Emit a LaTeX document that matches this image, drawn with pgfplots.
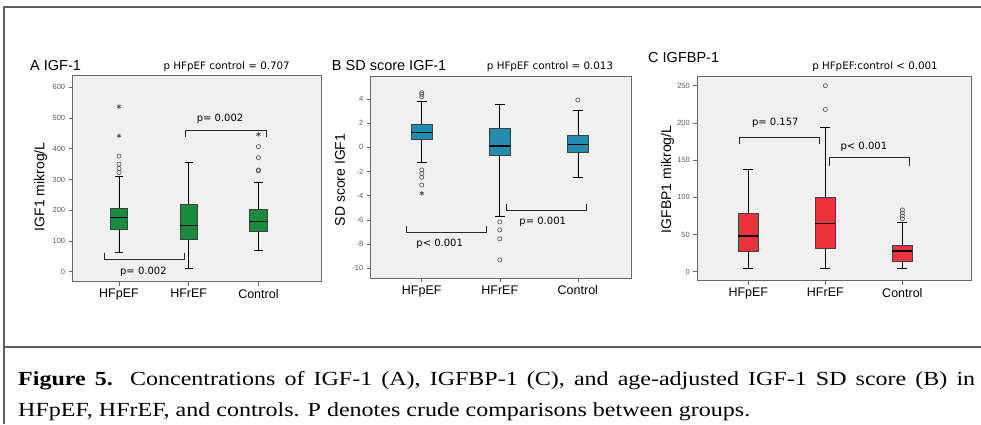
\documentclass[border=0pt]{standalone}
\usepackage{pgfplots}
\pgfplotsset{compat=1.18}
\usepgfplotslibrary{statistics}
\usepackage{fontspec}
\setmainfont{Liberation Sans}
\newfontfamily\capfont[FakeStretch=1.2]{Liberation Serif}
\newfontfamily\pfont{DejaVu Sans}

\definecolor{bgreen}{RGB}{26,138,62}
\definecolor{bblue}{RGB}{35,140,175}
\definecolor{bred}{RGB}{236,50,60}
\definecolor{plotbg}{RGB}{240,240,240}
\definecolor{framegray}{RGB}{95,95,95}

\tikzset{plab/.style={font=\pfont\fontsize{10}{12}\selectfont}}

\pgfplotsset{
 mybox/.style={
  scale only axis,
  anchor=south west,
  axis background/.style={fill=plotbg},
  axis line style={draw=black!60, line width=0.8pt},
  tick align=outside, xtick pos=bottom, ytick pos=left,
  major tick length=4pt, tick style={black!60, line width=0.6pt},
  xtick={1,2,3}, xticklabels={HFpEF,HFrEF,Control},
  x tick label style={font=\fontsize{12.5}{14}\selectfont},
  y tick label style={font=\fontsize{7.5}{9}\selectfont, text=black!65},
  /pgf/number format/assume math mode=true,
  boxplot/draw direction=y,
  boxplot/box extend=0.26,
  boxplot/whisker extend=0.13,
  clip=false,
 },
 bx/.style={fill=#1, draw=black!75, line width=0.6pt, solid,
  boxplot/every median/.style={draw=black, line width=1.6pt},
  boxplot/every whisker/.style={draw=black, line width=0.7pt}},
 outc/.style={only marks, mark=o, mark size=2.1pt, draw=black!70, mark options={line width=0.6pt, solid}},
 outs/.style={only marks, mark=asterisk, mark size=2.4pt, draw=black!75, mark options={line width=0.6pt, solid}},
 brk/.style={black!85, line width=0.8pt, no marks},
}

\begin{document}
\begin{tikzpicture}[x=1pt,y=1pt]
\useasboundingbox (0,0) rectangle (981,424);
% frame
\draw[framegray, line width=1.5pt] (4,0) -- (4,417) -- (981,417);
\draw[framegray, line width=1.5pt] (4,77) -- (981,77);

% ---------------- Panel A ----------------
\begin{axis}[mybox, at={(72.7pt,142.3pt)}, width=249pt, height=206.7pt,
  xmin=0.336, xmax=3.908, ymin=-32.5, ymax=640, ytick={0,100,...,600},
  boxplot/box extend=0.25, boxplot/whisker extend=0.12]
\addplot[bx=bgreen, boxplot prepared={draw position=1, lower whisker=62, lower quartile=138, median=176, upper quartile=206, upper whisker=309}] coordinates {};
\addplot[bx=bgreen, boxplot prepared={draw position=2, lower whisker=11, lower quartile=105, median=150, upper quartile=220, upper whisker=355}] coordinates {};
\addplot[bx=bgreen, boxplot prepared={draw position=3, lower whisker=68, lower quartile=133, median=163, upper quartile=203, upper whisker=292}] coordinates {};
\addplot[outc] coordinates {(1,376) (1,350) (1,336) (1,323) (3,407) (3,371) (3,331) (3,328)};
\addplot[outs] coordinates {(1,537) (1,442) (3,447)};
\addplot[brk] coordinates {(0.785,60) (0.785,41) (1.937,41) (1.937,60)};
\addplot[brk] coordinates {(1.947,437) (1.947,461) (3.12,461) (3.12,437)};
\node[plab] at (axis cs:1.35,-2) {p= 0.002};
\node[plab] at (axis cs:2.45,499) {p= 0.002};
\end{axis}
\node[rotate=90, font=\fontsize{14}{16}\selectfont] at (40.7,237.3) {IGF1 mikrog/L};
\node[anchor=base west, inner sep=0, font=\fontsize{14.5}{16}\selectfont] at (30,353) {A IGF-1};
\node[anchor=base, inner sep=0, font=\pfont\fontsize{10.3}{12}\selectfont] at (226.7,354.7) {p HFpEF control = 0.707};

% ---------------- Panel B ----------------
\begin{axis}[mybox, at={(370.7pt,145.7pt)}, width=261pt, height=202.3pt,
  xmin=0.346, xmax=3.69, ymin=-10.83, ymax=5.9, ytick={-10,-8,...,4}]
\addplot[bx=bblue, boxplot prepared={draw position=1, lower whisker=-1.26, lower quartile=0.66, median=1.24, upper quartile=1.93, upper whisker=3.78}] coordinates {};
\addplot[bx=bblue, boxplot prepared={draw position=2, lower whisker=-5.67, lower quartile=-0.63, median=0.11, upper quartile=1.57, upper whisker=3.53}] coordinates {};
\addplot[bx=bblue, boxplot prepared={draw position=3, lower whisker=-2.51, lower quartile=-0.44, median=0.25, upper quartile=0.96, upper whisker=3.06}] coordinates {};
\addplot[outc] coordinates {(1,4.52) (1,4.38) (1,4.19) (1,-1.87) (1,-2.15) (1,-2.48) (1,-3.12) (2,-6.17) (2,-6.83) (2,-7.57) (2,-9.31) (3,3.92)};
\addplot[outs] coordinates {(1,-3.8)};
\addplot[brk] coordinates {(0.80,-6.5) (0.80,-7.05) (1.83,-7.05) (1.83,-6.5)};
\addplot[brk] coordinates {(2.09,-4.68) (2.09,-5.23) (3.115,-5.23) (3.115,-4.68)};
\node[plab] at (axis cs:1.23,-8.0) {p< 0.001};
\node[plab] at (axis cs:2.55,-6.14) {p= 0.001};
\end{axis}
\node[rotate=90, font=\fontsize{14}{16}\selectfont] at (340,244) {SD score IGF1};
\node[anchor=base west, inner sep=0, font=\fontsize{14.5}{16}\selectfont] at (331.7,353.3) {B SD score IGF-1};
\node[anchor=base, inner sep=0, font=\pfont\fontsize{10.3}{12}\selectfont] at (550,354.7) {p HFpEF control = 0.013};

% ---------------- Panel C ----------------
\begin{axis}[mybox, at={(697.3pt,143.3pt)}, width=274.4pt, height=204.7pt,
  xmin=0.338, xmax=3.90, ymin=-12.1, ymax=263, ytick={0,50,...,250}]
\addplot[bx=bred, boxplot prepared={draw position=1, lower whisker=4.5, lower quartile=28, median=48, upper quartile=78, upper whisker=137}] coordinates {};
\addplot[bx=bred, boxplot prepared={draw position=2, lower whisker=4.5, lower quartile=31, median=65, upper quartile=99.5, upper whisker=194}] coordinates {};
\addplot[bx=bred, boxplot prepared={draw position=3, lower whisker=4.5, lower quartile=14, median=28, upper quartile=35, upper whisker=66}] coordinates {};
\addplot[outc] coordinates {(2,250) (2,218) (3,83) (3,79) (3,75) (3,71)};
\addplot[brk] coordinates {(0.88,171.6) (0.88,180.5) (1.92,180.5) (1.92,171.6)};
\addplot[brk] coordinates {(2.05,142) (2.05,153.7) (3.09,153.7) (3.09,142)};
\node[plab] at (axis cs:1.35,200) {p= 0.157};
\node[plab] at (axis cs:2.50,168) {p< 0.001};
\end{axis}
\node[rotate=90, font=\fontsize{14}{16}\selectfont] at (667.5,244.6) {IGFBP1 mikrog/L};
\node[anchor=base west, inner sep=0, font=\fontsize{14.5}{16}\selectfont] at (648,361.3) {C IGFBP-1};
\node[anchor=base, inner sep=0, font=\pfont\fontsize{10.3}{12}\selectfont] at (875,354) {p HFpEF:control {<} 0.001};

% ---------------- Caption ----------------
\node[anchor=base west, inner sep=0] at (18,39) {\capfont\fontsize{20}{24}\selectfont\makebox[957pt][s]{\textbf{Figure 5.} Concentrations of IGF-1 (A), IGFBP-1 (C), and age-adjusted IGF-1 SD score (B) in}};
\node[anchor=base west, inner sep=0] at (18,8) {\capfont\fontsize{20}{24}\selectfont HFpEF, HFrEF, and controls. P denotes crude comparisons between groups.};
\end{tikzpicture}
\end{document}
